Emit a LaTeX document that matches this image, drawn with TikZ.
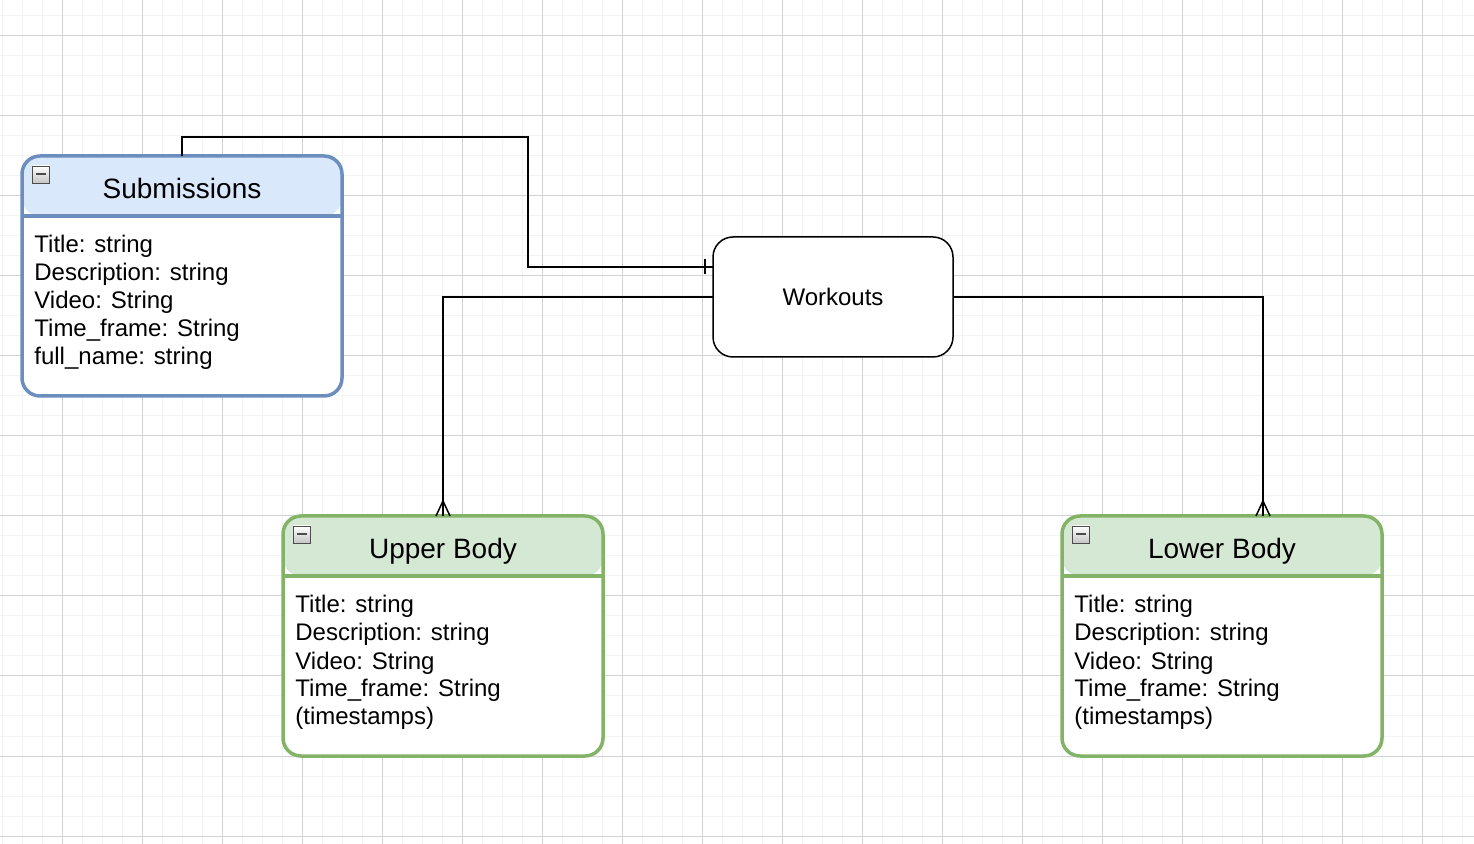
\documentclass[tikz,border=0pt]{standalone}
\usepackage{fontspec}
\setmainfont{Liberation Sans}
\usepackage{xcolor}
\definecolor{bluefill}{HTML}{DAE8FC}
\definecolor{blueline}{HTML}{6C8EBF}
\definecolor{greenfill}{HTML}{D5E8D4}
\definecolor{greenline}{HTML}{82B366}
\definecolor{minorgrid}{HTML}{F3F3F3}
\definecolor{majorgrid}{HTML}{D3D3D3}
\newcommand{\entity}[6]{
\node[entitybox, draw=#5line,
  path picture={\fill[#5fill] (path picture bounding box.north west) rectangle ([yshift=-30pt]path picture bounding box.north east);}]
  (#1) at (#2+160,#3+120) {};
\draw[#5line, line width=1.75pt] ([yshift=-30pt]#1.north west)--([yshift=-30pt]#1.north east);
\node[fold] (#1-fold) at ([xshift=9.5pt,yshift=-9.25pt]#1.north west) {};
\node[entitytitle] (#1-title) at ([yshift=-21.25pt]#1.north) {#4};
\foreach \row [count=\i] in {#6}
  \node[entityrow] (#1-\i) at ([xshift=6pt,yshift=-34.5pt-14pt*\i]#1.north west) {\row};
}
\usepackage{tikz}
\tikzset{
  entitybox/.style={rectangle, rounded corners=9pt, fill=white, line width=1.75pt,
    minimum width=160pt, minimum height=120pt, outer sep=0pt, inner sep=0pt},
  entitytitle/.style={anchor=base, inner sep=0pt, font=\fontsize{14}{16}\selectfont},
  entityrow/.style={anchor=base west, inner sep=0pt, font=\fontsize{12}{14}\selectfont},
  fold/.style={draw=gray!60!black, top color=white, bottom color=gray!45, line width=0.4pt,
    minimum size=8.5pt, inner sep=0pt,
    path picture={\draw[line width=1pt] ([xshift=-2.5pt]path picture bounding box.center)--([xshift=2.5pt]path picture bounding box.center);}},
  workoutbox/.style={draw, rectangle, rounded corners=10pt, fill=white, line width=0.75pt,
    minimum width=120pt, minimum height=60pt, outer sep=0pt, font=\fontsize{12}{14}\selectfont},
  link/.style={draw, black, line width=0.75pt}
}

\begin{document}
\begin{tikzpicture}[x=0.5pt, y=-0.5pt]
\useasboundingbox (0,0) rectangle (1474,844);
\fill[white] (0,0) rectangle (1474,844);

% grid
\foreach \x in {2,22,...,1474} \draw[minorgrid, line width=0.5pt] (\x,0)--(\x,844);
\foreach \y in {16,36,...,844} \draw[minorgrid, line width=0.5pt] (0,\y)--(1474,\y);
\foreach \x in {62,142,...,1474} \draw[majorgrid, line width=0.5pt] (\x,0)--(\x,844);
\foreach \y in {36,116,...,844} \draw[majorgrid, line width=0.5pt] (0,\y)--(1474,\y);

% entities
\entity{sub}{22}{156}{Submissions}{blue}{Title: string, Description: string, Video: String, Time\_frame: String, full\_name: string}
\entity{upper}{283}{516}{Upper Body}{green}{Title: string, Description: string, Video: String, Time\_frame: String, {(timestamps)}}
\entity{lower}{1062}{516}{Lower Body}{green}{Title: string, Description: string, Video: String, Time\_frame: String, {(timestamps)}}

\node[workoutbox] (workouts) at (833,297) {Workouts};

% connectors
\coordinate (sub-in) at ([yshift=15pt]workouts.west);
\coordinate (lower-in) at ([xshift=20.5pt]lower.north);

\draw[link] (sub.north) |- (528,137) |- (sub-in);
\draw[link] ([xshift=-4pt,yshift=-3.75pt]sub-in)--([xshift=-4pt,yshift=3.75pt]sub-in);

\draw[link] (workouts.west) -| (upper.north);
\draw[link] ([xshift=-3.5pt]upper.north)--([yshift=7.5pt]upper.north)--([xshift=3.5pt]upper.north);

\draw[link] (workouts.east) -| (lower-in);
\draw[link] ([xshift=-3.5pt]lower-in)--([yshift=7.5pt]lower-in)--([xshift=3.5pt]lower-in);

\end{tikzpicture}
\end{document}
